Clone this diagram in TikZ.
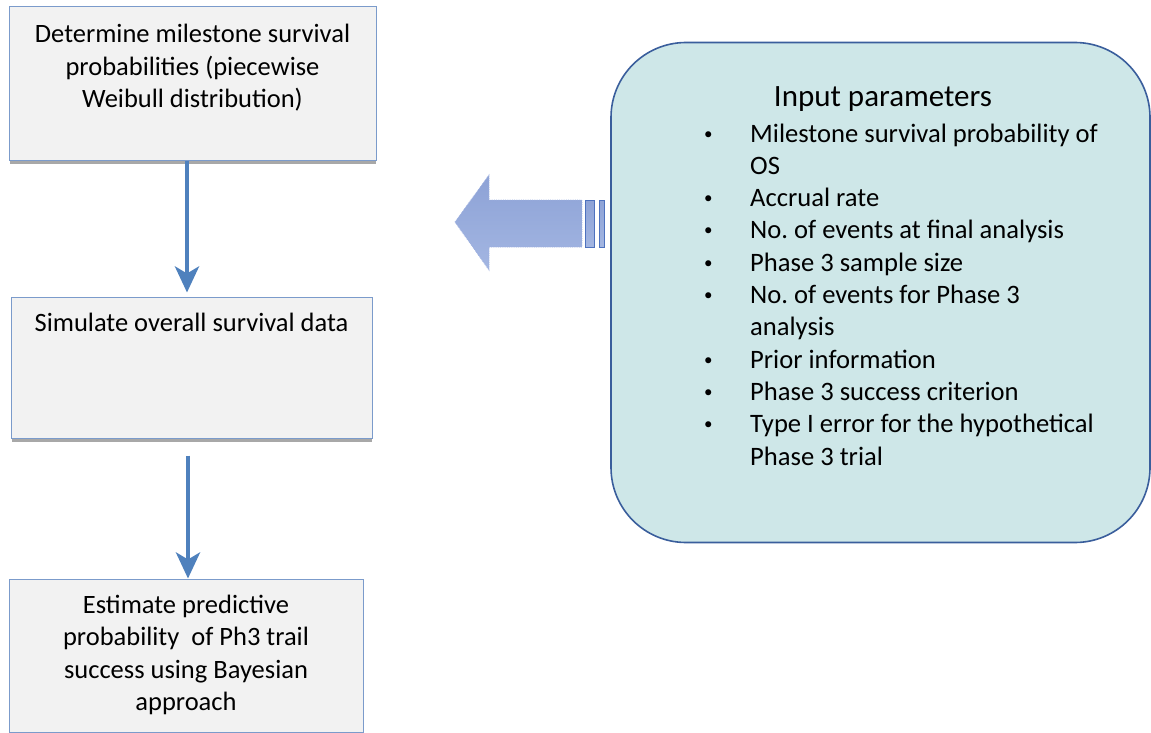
\documentclass[tikz,border=0pt]{standalone}
\usepackage{fontspec}
\setmainfont{Carlito}
\usetikzlibrary{arrows.meta}
\frenchspacing
\definecolor{boxfill}{HTML}{F2F2F2}
\definecolor{boxline}{HTML}{7B9BCB}
\definecolor{flowblue}{HTML}{4F81BD}
\definecolor{inpfill}{HTML}{CEE7E8}
\definecolor{inpline}{HTML}{3A5E9C}
\definecolor{bigtop}{HTML}{8DA2D6}
\definecolor{bigbot}{HTML}{A3B6E2}
\definecolor{bigline}{HTML}{9DB0E0}
\definecolor{barline}{HTML}{4E72BE}
\definecolor{shadowgray}{HTML}{A8A8A8}
\tikzset{
  stepbox/.style={draw=boxline, line width=1pt, fill=boxfill, inner sep=0pt, font=\fontsize{26.5}{32.5}\selectfont},
  flowarrow/.style={draw=flowblue, line width=4.5pt, -{Stealth[length=26pt,width=24pt,inset=7pt]}},
  inputbox/.style={draw=inpline, line width=1.6pt, fill=inpfill, rounded corners=75pt, minimum width=539pt, minimum height=500pt},
  listtext/.style={font=\fontsize{26.6}{32.3}\selectfont, align=left, inner sep=0pt},
}
\newcommand{\bul}{\makebox[47pt][l]{\hspace*{1pt}\raisebox{3pt}{\fontsize{17}{17}\selectfont\textbullet}}}
\newcommand{\ind}{\hspace*{47pt}}
\begin{document}
\begin{tikzpicture}[x=1pt,y=-1pt]
\useasboundingbox (0,0) rectangle (1151,733);

% left flow boxes
\draw[shadowgray, line width=3pt] (10,162) -- (376,162);
\node[stepbox] (b1) at (192.5,83.5) {\parbox[c][153pt][t]{367pt}{\centering\rule{0pt}{36pt}Determine milestone survival\\ probabilities (piecewise\\ Weibull distribution)}};
\draw[shadowgray, line width=3pt] (12,440) -- (372,440);
\node[stepbox] (b2) at (191.5,367.5) {\parbox[c][141pt][t]{361pt}{\centering\rule{0pt}{34.7pt}Simulate overall survival data}};
\node[stepbox] (b3) at (186,655.5) {\parbox[c][153pt][t]{354pt}{\centering\rule{0pt}{34pt}Estimate predictive\\ probability\ \ of Ph3 trail\\ success using Bayesian\\ approach}};

\draw[flowarrow, shorten >=4pt] ([xshift=-5.5pt]b1.south) -- ([xshift=-5.5pt]b1.south |- b2.north);
\draw[flowarrow, shorten <=17pt] ([xshift=-3.5pt]b2.south) -- ([xshift=-3.5pt]b2.south |- b3.north);

% input parameters box
\node[inputbox] (inp) at (880.5,292.5) {};
\node[anchor=base, font=\fontsize{31}{36}\selectfont, inner sep=0pt] (title) at (883,106.7) {Input parameters};
\node[listtext, anchor=base west] (list) at (703,465) {%
\bul Milestone survival probability of\\
\ind OS\\
\bul Accrual rate\\
\bul No. of events at final analysis\\
\bul Phase 3 sample size\\
\bul No. of events for Phase 3\\
\ind analysis\\
\bul Prior information\\
\bul Phase 3 success criterion\\
\bul Type I error for the hypothetical\\
\ind Phase 3 trial};

% big block arrow pointing left
\shade[top color=bigtop, bottom color=bigbot, draw=bigline, line width=0.8pt, densely dotted]
  (455,222) -- (489,175) -- (489,200) -- (582,200) -- (582,247) -- (489,247) -- (489,270) -- cycle;
\shade[top color=bigtop, bottom color=bigbot, draw=barline, line width=1pt] (585,200) rectangle (594,247);
\shade[top color=bigtop, bottom color=bigbot, draw=barline, line width=1pt] (599,200) rectangle (604,247);
\end{tikzpicture}
\end{document}
